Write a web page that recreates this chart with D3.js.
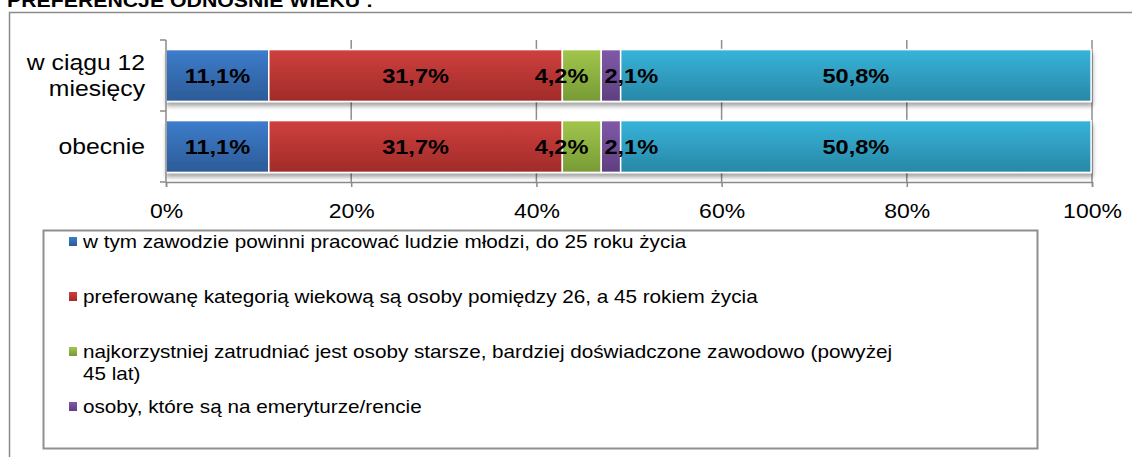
<!DOCTYPE html>
<html>
<head>
<meta charset="utf-8">
<script src="https://d3js.org/d3.v7.min.js"></script>
<style>
  body { margin: 0; background: #fff; }
  svg { display: block; font-family: "Liberation Sans", Arial, sans-serif; }
</style>
</head>
<body>
<div id="chart"></div>
<script>
// ---- data ----
const title = "PREFERENCJE ODNOŚNIE WIEKU :";
const categories = ["w ciągu 12\nmiesięcy", "obecnie"];
const seriesKeys = ["mlodzi", "26-45", "starsi", "emeryci", "reszta"];
const values12Months = [11.1, 31.7, 4.2, 2.1, 50.8];
const valuesNow = [11.1, 31.7, 4.2, 2.1, 50.8];
const xTicks = [0, 20, 40, 60, 80, 100];
const legendLabels = [
  "w tym zawodzie powinni pracować ludzie młodzi, do 25 roku życia",
  "preferowanę kategorią wiekową są osoby pomiędzy 26, a 45 rokiem życia",
  "najkorzystniej zatrudniać jest osoby starsze, bardziej doświadczone zawodowo (powyżej 45 lat)",
  "osoby, które są na emeryturze/rencie"
];
const colorsTop = ["#3d7dcc", "#cf403e", "#a2c64c", "#8059a8", "#37b4da"];
const colorsBottom = ["#2c5b97", "#a02b29", "#779a36", "#5e3f80", "#2887a6"];

// the picture is a bit wider than normal text, so text gets stretched
const SX = 1.15;
function stretch(sel) {
  sel.each(function () {
    const t = d3.select(this);
    const x = +t.attr("x") || 0, y = +t.attr("y") || 0;
    t.attr("x", 0).attr("y", 0)
      .attr("transform", "translate(" + x + "," + y + ") scale(" + SX + ",1)");
  });
}
const fmt = d => d3.format(".1f")(d).replace(".", ",") + "%";

const width = 1132, height = 457;
const svg = d3.select("#chart").append("svg")
  .attr("width", width)
  .attr("height", height);

const defs = svg.append("defs");
seriesKeys.forEach((k, i) => {
  const g = defs.append("linearGradient")
    .attr("id", "grad" + i)
    .attr("x1", 0).attr("y1", 0).attr("x2", 0).attr("y2", 1);
  g.append("stop").attr("offset", "0%").attr("stop-color", colorsTop[i]);
  g.append("stop").attr("offset", "100%").attr("stop-color", colorsBottom[i]);
});
const shadow = defs.append("filter").attr("id", "shadow")
  .attr("x", "-5%").attr("y", "-20%").attr("width", "110%").attr("height", "160%");
shadow.append("feDropShadow")
  .attr("dx", 1).attr("dy", 4).attr("stdDeviation", 2.2)
  .attr("flood-color", "#000").attr("flood-opacity", 0.35);

// outer frame (its right and bottom edges are outside the picture)
svg.append("rect")
  .attr("x", 9.5).attr("y", 12.5)
  .attr("width", 1300).attr("height", 600)
  .attr("fill", "none").attr("stroke", "#8a8a8a").attr("stroke-width", 1.5);

// title, cut by the top edge as in the source
svg.append("text")
  .attr("x", 7).attr("y", 6.5)
  .attr("font-size", 18.5).attr("font-weight", "bold")
  .text(title)
  .call(stretch);

// ---- scales ----
var x = d3.scaleLinear()
  .domain([0, 100])
  .range([166, 1092]);

var y = d3.scaleBand()
  .domain(categories)
  .range([40, 182])
  .paddingInner(0.27)
  .paddingOuter(0.135);

// table for the stack
const table = [values12Months, valuesNow].map((vals, r) => {
  const row = { cat: categories[r] };
  seriesKeys.forEach((k, i) => { row[k] = vals[i]; });
  return row;
});
const stacked = d3.stack().keys(seriesKeys)(table);

// vertical gridlines
svg.append("g")
  .selectAll("line")
  .data(xTicks.slice(1))
  .join("line")
  .attr("x1", d => x(d)).attr("x2", d => x(d))
  .attr("y1", y.range()[0]).attr("y2", y.range()[1])
  .attr("stroke", "#8e8e8e").attr("stroke-width", 1.5);

// bars, one group per category so the shadow falls under the whole bar
const rows = svg.append("g")
  .selectAll("g")
  .data(categories)
  .join("g")
  .attr("filter", "url(#shadow)");

rows.selectAll("rect")
  .data((c, r) => stacked.map((s, i) => ({ i: i, v0: s[r][0], v1: s[r][1], cat: c })))
  .join("rect")
  .attr("x", d => x(d.v0))
  .attr("y", d => y(d.cat))
  .attr("width", d => x(d.v1) - x(d.v0))
  .attr("height", y.bandwidth())
  .attr("fill", d => "url(#grad" + d.i + ")")
  .attr("stroke", "#fff")
  .attr("stroke-width", 1.5);

// x axis
const xAxis = svg.append("g")
  .attr("transform", "translate(0," + y.range()[1] + ")")
  .call(d3.axisBottom(x)
    .tickValues(xTicks)
    .tickFormat(d => d + "%")
    .tickSize(5)
    .tickPadding(17));
xAxis.select(".domain").attr("stroke", "#8a8a8a").attr("stroke-width", 1.5);
xAxis.selectAll(".tick line").attr("stroke", "#8a8a8a").attr("stroke-width", 1.5);
xAxis.selectAll(".tick text")
  .attr("font-size", 20)
  .attr("font-family", "Liberation Sans, Arial, sans-serif")
  .attr("fill", "#000")
  .call(stretch);

// y axis (line plus ticks at band edges)
const yEdges = d3.range(categories.length + 1).map(i => y.range()[0] + i * y.step());
const yAxis = svg.append("g");
yAxis.append("line")
  .attr("x1", x(0)).attr("x2", x(0))
  .attr("y1", y.range()[0]).attr("y2", y.range()[1])
  .attr("stroke", "#8a8a8a").attr("stroke-width", 1.5);
yAxis.selectAll(".ytick")
  .data(yEdges)
  .join("line")
  .attr("class", "ytick")
  .attr("x1", x(0) - 6).attr("x2", x(0))
  .attr("y1", d => d).attr("y2", d => d)
  .attr("stroke", "#8a8a8a").attr("stroke-width", 1.5);

// category labels
const catLabels = svg.append("g")
  .selectAll("text")
  .data(categories)
  .join("text")
  .attr("x", 145)
  .attr("y", d => y(d) + y.bandwidth() / 2)
  .attr("text-anchor", "end")
  .attr("font-size", 21.5);
catLabels.each(function (d) {
  const lines = d.split("\n");
  const t = d3.select(this);
  lines.forEach((ln, i) => {
    t.append("tspan")
      .attr("x", 0)
      .attr("dy", i === 0 ? (0.35 - (lines.length - 1) * 0.61) + "em" : "1.22em")
      .text(ln);
  });
});
catLabels.call(stretch);

// data labels, pushed apart where small segments crowd together
categories.forEach((c, r) => {
  const labs = stacked.map((s, i) => ({
    text: fmt(s[r][1] - s[r][0]),
    cx: x((s[r][0] + s[r][1]) / 2)
  }));
  const g = svg.append("g");
  const texts = g.selectAll("text")
    .data(labs)
    .join("text")
    .attr("text-anchor", "middle")
    .attr("font-size", 20.5)
    .attr("font-weight", "bold")
    .attr("fill", "#000")
    .text(d => d.text);
  texts.each(function (d) { d.w = this.getComputedTextLength() * SX; });
  for (let it = 0; it < 20; it++) {
    for (let i = 0; i < labs.length - 1; i++) {
      const a = labs[i], b = labs[i + 1];
      const need = (a.w + b.w) / 2 + 16;
      if (b.cx - a.cx < need) {
        const push = (need - (b.cx - a.cx)) / 2;
        a.cx -= push; b.cx += push;
      }
    }
  }
  texts
    .attr("x", d => d.cx)
    .attr("y", y(c) + y.bandwidth() / 2 + 7)
    .call(stretch);
});

// legend
const legend = svg.append("g");
legend.append("rect")
  .attr("x", 43.5).attr("y", 230.5)
  .attr("width", 994).attr("height", 218)
  .attr("fill", "#fff")
  .attr("stroke", "#8f8f8f").attr("stroke-width", 2);

const maxLine = 825;
legendLabels.forEach((lab, i) => {
  const by = 248 + i * 55;
  legend.append("rect")
    .attr("x", 69).attr("y", by - 11)
    .attr("width", 8).attr("height", 9)
    .attr("fill", "url(#grad" + i + ")");
  const t = legend.append("text")
    .attr("x", 83).attr("y", by)
    .attr("font-size", 18);
  // wrap by width
  const words = lab.split(" ");
  let line = [], tspan = t.append("tspan").attr("x", 0);
  words.forEach(w => {
    line.push(w);
    tspan.text(line.join(" "));
    if (tspan.node().getComputedTextLength() * SX > maxLine && line.length > 1) {
      line.pop();
      tspan.text(line.join(" "));
      line = [w];
      tspan = t.append("tspan").attr("x", 0).attr("dy", "1.22em").text(w);
    }
  });
  t.call(stretch);
});
</script>
</body>
</html>
